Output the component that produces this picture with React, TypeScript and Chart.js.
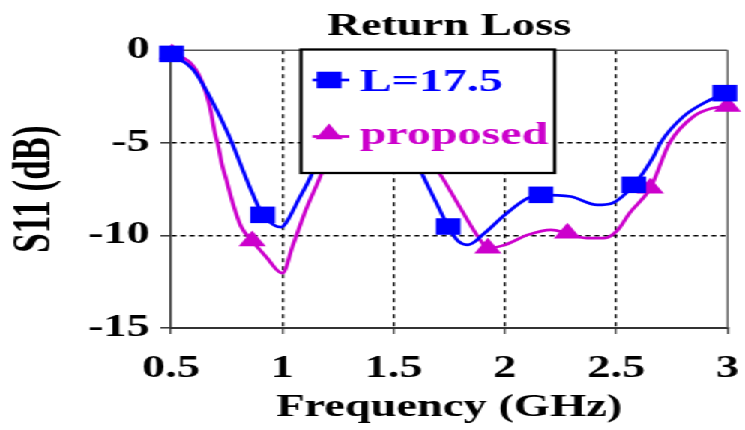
import React, { useEffect, useRef } from 'react';
import { Chart, registerables } from 'chart.js';

Chart.register(...registerables);

// Series names and colours
const seriesNames = ['L=17.5', 'proposed'];
const seriesColors = ['#0000ff', '#cc00cc'];

// L=17.5 : frequency (GHz) and S11 (dB) samples along the smoothed curve
const blueFreq = [0.503, 0.6, 0.674, 0.76, 0.853, 0.912, 0.964, 0.997, 1.016, 1.076, 1.128, 1.2, 1.3, 1.4, 1.5, 1.634, 1.686, 1.746, 1.79, 1.835, 1.909, 2.0, 2.103, 2.162, 2.296, 2.415, 2.482, 2.579, 2.668, 2.698, 2.802, 2.921, 2.988];
const blueS11 = [-0.2, -1.05, -2.5, -4.6, -7.36, -8.89, -9.45, -9.55, -9.34, -8.0, -6.82, -4.6, -2.7, -2.4, -3.4, -6.82, -8.08, -9.52, -10.3, -10.51, -9.88, -8.89, -7.99, -7.81, -7.9, -8.35, -8.26, -7.27, -5.74, -5.02, -3.58, -2.68, -2.32];
// samples that carry a square marker
const blueMarkerIdx = [0, 5, 17, 23, 27, 32];

// proposed : frequency (GHz) and S11 (dB)
const pinkFreq = [0.505, 0.58, 0.629, 0.674, 0.698, 0.715, 0.728, 0.749, 0.778, 0.815, 0.865, 0.927, 1.001, 1.046, 1.106, 1.17, 1.25, 1.35, 1.45, 1.55, 1.716, 1.805, 1.879, 1.924, 2.0, 2.103, 2.207, 2.281, 2.37, 2.445, 2.504, 2.56, 2.653, 2.74, 2.847, 2.936, 3.0];
const pinkS11 = [-0.2, -0.6, -1.42, -3.0, -4.5, -5.3, -6.1, -7.0, -8.26, -9.52, -10.3, -11.15, -12.04, -10.6, -8.62, -6.85, -4.4, -2.9, -2.6, -3.9, -6.82, -8.62, -10.06, -10.69, -10.51, -9.97, -9.7, -9.88, -10.15, -10.15, -9.75, -8.8, -7.45, -5.0, -3.58, -3.12, -3.04];
// samples that carry a triangle marker
const pinkMarkerIdx = [0, 10, 23, 27, 32, 36];

// Axis ticks
const xTickValues = [0.5, 1, 1.5, 2, 2.5, 3];
const xTickLabels = ['0.5', '1', '1.5', '2', '2.5', '3'];
const yTickValues = [-15, -10, -5, 0];
const yTickLabels = ['-15', '-10', '-5', '0'];

const TITLE = 'Return Loss';
const X_TITLE = 'Frequency (GHz)';
const Y_TITLE = 'S11 (dB)';

// The figure is drawn narrow and widened horizontally
const BASE_W = 497;
const BASE_H = 430;
const STRETCH = 745 / BASE_W;

const SERIF = '"Liberation Serif", "Times New Roman", serif';
const SQUARE_R = 11.7;
const TRI_R = 10.5;
const LINE_W = 2.7;

// Thin plot frame on the top and right sides
const framePlugin = {
  id: 'plotFrame',
  beforeDatasetsDraw(chart: any) {
    const { ctx, chartArea: a } = chart;
    ctx.save();
    ctx.strokeStyle = '#555';
    ctx.lineWidth = 1.5;
    ctx.beginPath();
    ctx.moveTo(a.left, a.top);
    ctx.lineTo(a.right, a.top);
    ctx.stroke();
    ctx.lineWidth = 1.2;
    ctx.beginPath();
    ctx.moveTo(a.right, a.top);
    ctx.lineTo(a.right, a.bottom);
    ctx.stroke();
    ctx.restore();
  },
};

// Boxed legend placed over the plot
const legendBoxPlugin = {
  id: 'legendBox',
  afterDatasetsDraw(chart: any) {
    const { ctx } = chart;
    const box = { l: 200.7, t: 49.5, r: 370, b: 173 };
    const rows = [
      { lineY: 80, textY: 91 },
      { lineY: 136.5, textY: 144 },
    ];
    ctx.save();
    ctx.fillStyle = '#fff';
    ctx.fillRect(box.l, box.t, box.r - box.l, box.b - box.t);
    ctx.strokeStyle = '#000';
    ctx.lineWidth = 2.3;
    ctx.strokeRect(box.l, box.t, box.r - box.l, box.b - box.t);
    chart.data.datasets.forEach((ds: any, i: number) => {
      const row = rows[i];
      const color = ds.borderColor;
      ctx.strokeStyle = color;
      ctx.fillStyle = color;
      ctx.lineWidth = LINE_W;
      ctx.beginPath();
      ctx.moveTo(208.5, row.lineY);
      ctx.lineTo(233, row.lineY);
      ctx.stroke();
      const cx = 219.5;
      if (ds.pointStyle === 'rect') {
        const s = SQUARE_R * Math.SQRT1_2;
        ctx.fillRect(cx - s, row.lineY - s, 2 * s, 2 * s);
      } else {
        const cy = row.lineY - 2.5;
        ctx.beginPath();
        ctx.moveTo(cx, cy - TRI_R);
        ctx.lineTo(cx + TRI_R * Math.sin((2 * Math.PI) / 3), cy + TRI_R / 2);
        ctx.lineTo(cx - TRI_R * Math.sin((2 * Math.PI) / 3), cy + TRI_R / 2);
        ctx.closePath();
        ctx.fill();
      }
      ctx.font = `bold 32px ${SERIF}`;
      ctx.textAlign = 'left';
      ctx.textBaseline = 'alphabetic';
      ctx.fillText(ds.label, 240, row.textY);
    });
    ctx.restore();
  },
};

function toPoints(xs: number[], ys: number[]) {
  return xs.map((x, i) => ({ x, y: ys[i] }));
}

export default function App() {
  const canvasRef = useRef<HTMLCanvasElement>(null);

  useEffect(() => {
    const canvas = canvasRef.current;
    if (!canvas) return;
    const edgeTransparent = (lo: number, hi: number) => (c: any) =>
      c.tick && (c.tick.value === lo || c.tick.value === hi) ? 'rgba(0,0,0,0)' : '#000';

    const chart = new Chart(canvas, {
      type: 'line',
      data: {
        datasets: [
          {
            label: seriesNames[0],
            data: toPoints(blueFreq, blueS11),
            borderColor: seriesColors[0],
            backgroundColor: seriesColors[0],
            borderWidth: LINE_W,
            pointStyle: 'rect',
            pointRadius: (c: any) => (blueMarkerIdx.includes(c.dataIndex) ? SQUARE_R : 0),
            pointBorderWidth: 0,
            cubicInterpolationMode: 'monotone',
            clip: false,
          } as any,
          {
            label: seriesNames[1],
            data: toPoints(pinkFreq, pinkS11),
            borderColor: seriesColors[1],
            backgroundColor: seriesColors[1],
            borderWidth: LINE_W,
            pointStyle: 'triangle',
            pointRadius: (c: any) => (pinkMarkerIdx.includes(c.dataIndex) ? TRI_R : 0),
            pointBorderWidth: 0,
            cubicInterpolationMode: 'monotone',
            clip: false,
          } as any,
        ],
      },
      options: {
        responsive: false,
        animation: false,
        events: [],
        devicePixelRatio: 1,
        layout: { padding: { left: 0, right: 9, top: 0, bottom: 0 } },
        plugins: {
          legend: { display: false },
          tooltip: { enabled: false },
          title: {
            display: true,
            text: TITLE,
            fullSize: false,
            color: '#000',
            font: { family: SERIF, size: 31, weight: 'bold' },
            padding: { top: 8, bottom: 5 },
          },
        },
        scales: {
          x: {
            type: 'linear',
            min: 0.5,
            max: 3,
            afterBuildTicks: (scale: any) => {
              scale.ticks = xTickValues.map((v) => ({ value: v }));
            },
            afterFit: (scale: any) => {
              scale.height = 102;
              scale.paddingLeft = 0;
              scale.paddingRight = 0;
            },
            ticks: {
              callback: (_v: any, i: number) => xTickLabels[i],
              color: '#000',
              font: { family: SERIF, size: 31, weight: 'bold' },
              padding: 16,
              maxRotation: 0,
              autoSkip: false,
            },
            grid: {
              color: edgeTransparent(0.5, 3),
              lineWidth: 1.4,
              drawTicks: true,
              tickLength: 6,
              tickColor: '#333',
              tickWidth: 1.2,
            },
            border: { display: true, color: '#333', width: 2, dash: [4, 4] },
            title: {
              display: true,
              text: X_TITLE,
              color: '#000',
              font: { family: SERIF, size: 31, weight: 'bold' },
              padding: { top: 0, bottom: 3 },
            },
          },
          y: {
            type: 'linear',
            min: -15,
            max: 0,
            afterBuildTicks: (scale: any) => {
              scale.ticks = yTickValues.map((v) => ({ value: v }));
            },
            afterFit: (scale: any) => {
              scale.width = 114;
              scale.paddingTop = 0;
              scale.paddingBottom = 0;
            },
            ticks: {
              callback: (_v: any, i: number) => yTickLabels[i],
              color: '#000',
              font: { family: SERIF, size: 31, weight: 'bold' },
              padding: 7,
              autoSkip: false,
            },
            grid: {
              color: edgeTransparent(-15, 0),
              lineWidth: 1.6,
              drawTicks: true,
              tickLength: 7,
              tickColor: '#333',
              tickWidth: 1.5,
            },
            border: { display: true, color: '#333', width: 1.5, dash: [3.3, 2.7] },
            title: {
              display: true,
              text: Y_TITLE,
              color: '#000',
              font: { family: SERIF, size: 35, weight: 'bold' },
              padding: { top: 3, bottom: 0 },
            },
          },
        },
      } as any,
      plugins: [framePlugin, legendBoxPlugin],
    });
    return () => chart.destroy();
  }, []);

  return (
    <div
      style={{
        position: 'absolute',
        left: 0,
        top: 0,
        width: BASE_W,
        height: BASE_H,
        background: '#fff',
        transform: `scaleX(${STRETCH})`,
        transformOrigin: '0 0',
      }}
    >
      <canvas ref={canvasRef} width={BASE_W} height={BASE_H} style={{ display: 'block' }} />
    </div>
  );
}
